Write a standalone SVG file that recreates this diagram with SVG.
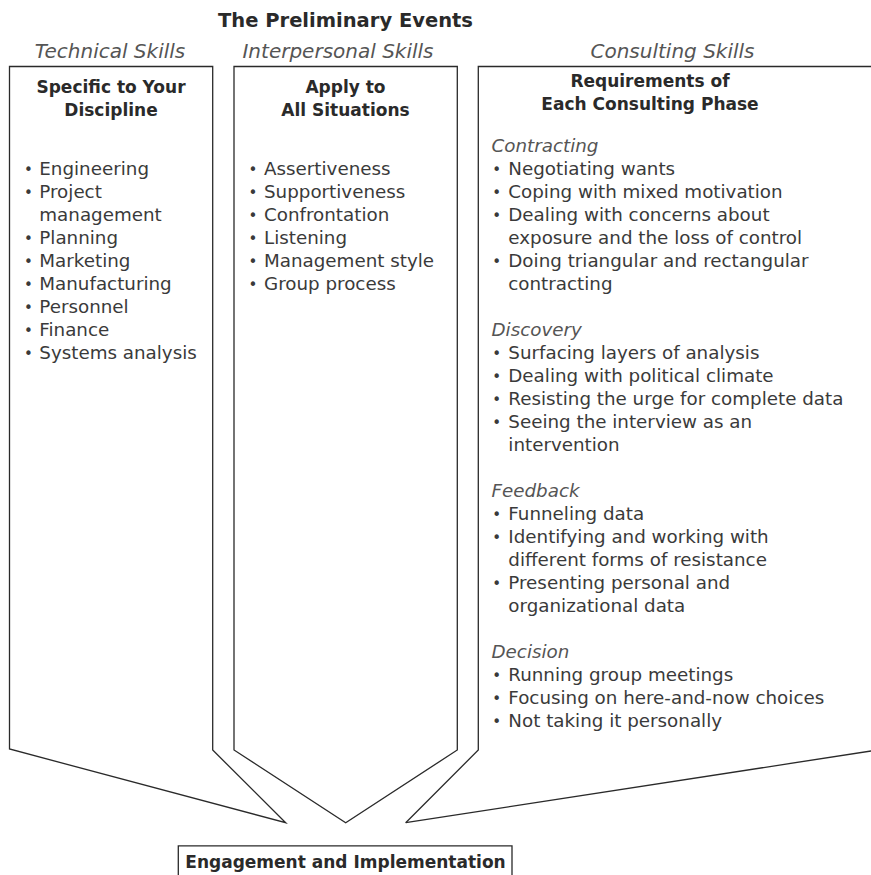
<svg xmlns="http://www.w3.org/2000/svg" width="871" height="875" viewBox="0 0 871 875">
<style>
.box{fill:none;stroke:#2a2a2a;stroke-width:1.3;stroke-linejoin:miter}
text{font-family:"DejaVu Sans","Liberation Sans",sans-serif}
.t{font-size:19.5px;font-weight:bold;fill:#2a2a2a}
.cat{font-size:20px;font-style:italic;fill:#555}
.hd{font-size:17px;font-weight:bold;fill:#2a2a2a}
.b{font-size:18.3px;fill:#3a3a3a}
.dot{font-size:15px}
.sub{font-size:18.3px;font-style:italic;fill:#555}
</style>
<rect width="871" height="875" fill="#fff"/>
<g id="title"><text class="t" x="345.5" y="27" text-anchor="middle">The Preliminary Events</text></g>
<g id="labels">
<text class="cat" x="110" y="58" text-anchor="middle">Technical Skills</text>
<text class="cat" x="338" y="58" text-anchor="middle">Interpersonal Skills</text>
<text class="cat" x="672.5" y="58" text-anchor="middle">Consulting Skills</text>
</g>
<g id="technical">
<polygon class="box" points="9.5,66.5 212.7,66.5 212.7,750 285.7,822.7 9.5,749"/>
<text class="hd" x="111" y="93" text-anchor="middle">Specific to Your</text>
<text class="hd" x="111" y="116" text-anchor="middle">Discipline</text>
<text class="b"><tspan class="dot" x="23.9" y="175">•</tspan><tspan x="39.3" y="175">Engineering</tspan></text>
<text class="b"><tspan class="dot" x="23.9" y="198">•</tspan><tspan x="39.3" y="198">Project</tspan><tspan x="39.3" y="221">management</tspan></text>
<text class="b"><tspan class="dot" x="23.9" y="244">•</tspan><tspan x="39.3" y="244">Planning</tspan></text>
<text class="b"><tspan class="dot" x="23.9" y="267">•</tspan><tspan x="39.3" y="267">Marketing</tspan></text>
<text class="b"><tspan class="dot" x="23.9" y="290">•</tspan><tspan x="39.3" y="290">Manufacturing</tspan></text>
<text class="b"><tspan class="dot" x="23.9" y="313">•</tspan><tspan x="39.3" y="313">Personnel</tspan></text>
<text class="b"><tspan class="dot" x="23.9" y="336">•</tspan><tspan x="39.3" y="336">Finance</tspan></text>
<text class="b"><tspan class="dot" x="23.9" y="359">•</tspan><tspan x="39.3" y="359">Systems analysis</tspan></text>
</g>
<g id="interpersonal">
<polygon class="box" points="234,66.5 457.3,66.5 457.3,750 345.7,822.7 234,750"/>
<text class="hd" x="345.5" y="93" text-anchor="middle">Apply to</text>
<text class="hd" x="345.5" y="116" text-anchor="middle">All Situations</text>
<text class="b"><tspan class="dot" x="248.6" y="175">•</tspan><tspan x="264" y="175">Assertiveness</tspan></text>
<text class="b"><tspan class="dot" x="248.6" y="198">•</tspan><tspan x="264" y="198">Supportiveness</tspan></text>
<text class="b"><tspan class="dot" x="248.6" y="221">•</tspan><tspan x="264" y="221">Confrontation</tspan></text>
<text class="b"><tspan class="dot" x="248.6" y="244">•</tspan><tspan x="264" y="244">Listening</tspan></text>
<text class="b"><tspan class="dot" x="248.6" y="267">•</tspan><tspan x="264" y="267">Management style</tspan></text>
<text class="b"><tspan class="dot" x="248.6" y="290">•</tspan><tspan x="264" y="290">Group process</tspan></text>
</g>
<g id="consulting">
<polyline class="box" points="405.7,822.7 478.3,750 478.3,66.5 880,66.5"/>
<polyline class="box" points="405.7,822.7 880,749.6"/>
<text class="hd" x="650" y="87" text-anchor="middle">Requirements of</text>
<text class="hd" x="650" y="110" text-anchor="middle">Each Consulting Phase</text>
<text class="sub" x="491.5" y="152">Contracting</text>
<text class="b"><tspan class="dot" x="492.3" y="175">•</tspan><tspan x="508.3" y="175">Negotiating wants</tspan></text>
<text class="b"><tspan class="dot" x="492.3" y="198">•</tspan><tspan x="508.3" y="198">Coping with mixed motivation</tspan></text>
<text class="b"><tspan class="dot" x="492.3" y="221">•</tspan><tspan x="508.3" y="221">Dealing with concerns about</tspan><tspan x="508.3" y="244">exposure and the loss of control</tspan></text>
<text class="b"><tspan class="dot" x="492.3" y="267">•</tspan><tspan x="508.3" y="267">Doing triangular and rectangular</tspan><tspan x="508.3" y="290">contracting</tspan></text>
<text class="sub" x="491.5" y="336">Discovery</text>
<text class="b"><tspan class="dot" x="492.3" y="359">•</tspan><tspan x="508.3" y="359">Surfacing layers of analysis</tspan></text>
<text class="b"><tspan class="dot" x="492.3" y="382">•</tspan><tspan x="508.3" y="382">Dealing with political climate</tspan></text>
<text class="b"><tspan class="dot" x="492.3" y="405">•</tspan><tspan x="508.3" y="405">Resisting the urge for complete data</tspan></text>
<text class="b"><tspan class="dot" x="492.3" y="428">•</tspan><tspan x="508.3" y="428">Seeing the interview as an</tspan><tspan x="508.3" y="451">intervention</tspan></text>
<text class="sub" x="491.5" y="497">Feedback</text>
<text class="b"><tspan class="dot" x="492.3" y="520">•</tspan><tspan x="508.3" y="520">Funneling data</tspan></text>
<text class="b"><tspan class="dot" x="492.3" y="543">•</tspan><tspan x="508.3" y="543">Identifying and working with</tspan><tspan x="508.3" y="566">different forms of resistance</tspan></text>
<text class="b"><tspan class="dot" x="492.3" y="589">•</tspan><tspan x="508.3" y="589">Presenting personal and</tspan><tspan x="508.3" y="612">organizational data</tspan></text>
<text class="sub" x="491.5" y="658">Decision</text>
<text class="b"><tspan class="dot" x="492.3" y="681">•</tspan><tspan x="508.3" y="681">Running group meetings</tspan></text>
<text class="b"><tspan class="dot" x="492.3" y="704">•</tspan><tspan x="508.3" y="704">Focusing on here-and-now choices</tspan></text>
<text class="b"><tspan class="dot" x="492.3" y="727">•</tspan><tspan x="508.3" y="727">Not taking it personally</tspan></text>
</g>
<g id="engagement">
<polyline class="box" points="178.3,880 178.3,845.8 512,845.8 512,880"/>
<text class="hd" x="345.5" y="868" text-anchor="middle">Engagement and Implementation</text>
</g>
<g id="connectors"></g>
</svg>
